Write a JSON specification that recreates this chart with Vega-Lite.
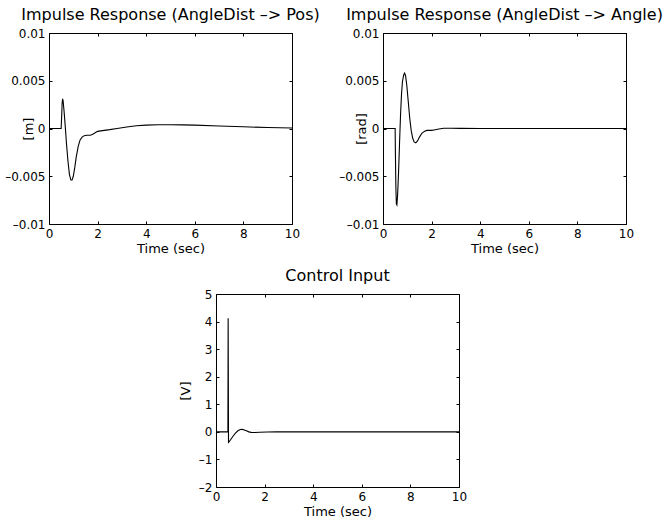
{
  "$schema": "https://vega.github.io/schema/vega-lite/v6.json",
  "background": "white",
  "padding": {"left": 4, "top": 6, "right": 4, "bottom": 4},
  "config": {
    "font": "DejaVu Sans",
    "view": {"stroke": "black", "strokeWidth": 1},
    "axis": {
      "grid": false, "domain": false, "tickColor": "black", "tickSize": -3, "tickWidth": 1,
      "labelColor": "black", "labelFont": "DejaVu Sans", "labelFontSize": 12, "labelPadding": 7,
      "labelFlush": false, "labelOverlap": false,
      "titleFont": "DejaVu Sans", "titleFontSize": 13, "titleFontWeight": "normal", "titleColor": "black", "titlePadding": 3
    },
    "title": {"font": "DejaVu Sans", "fontSize": 16, "fontWeight": "normal", "color": "black", "offset": 4, "baseline": "alphabetic", "frame": "group", "anchor": "middle"}
  },
  "datasets": {
    "pos": [
      {"t": 0, "v": 0}, {"t": 0.5, "v": 0}, {"t": 0.52, "v": 0.0012}, {"t": 0.54, "v": 0.0026}, {"t": 0.56, "v": 0.0031},
      {"t": 0.58, "v": 0.0029}, {"t": 0.62, "v": 0.0018}, {"t": 0.67, "v": 0.0002}, {"t": 0.72, "v": -0.0016},
      {"t": 0.78, "v": -0.0034}, {"t": 0.84, "v": -0.0048}, {"t": 0.9, "v": -0.0054}, {"t": 0.95, "v": -0.0054},
      {"t": 1.0, "v": -0.005}, {"t": 1.06, "v": -0.0041}, {"t": 1.12, "v": -0.003}, {"t": 1.2, "v": -0.0019},
      {"t": 1.28, "v": -0.0012}, {"t": 1.36, "v": -0.0009}, {"t": 1.45, "v": -0.00075}, {"t": 1.55, "v": -0.0007},
      {"t": 1.7, "v": -0.0007}, {"t": 1.8, "v": -0.0006}, {"t": 1.9, "v": -0.00045}, {"t": 2.0, "v": -0.0003},
      {"t": 2.2, "v": -0.00022}, {"t": 2.5, "v": -0.00012}, {"t": 2.8, "v": 0}, {"t": 3.2, "v": 0.00015},
      {"t": 3.6, "v": 0.00028}, {"t": 4.0, "v": 0.00035}, {"t": 4.5, "v": 0.0004}, {"t": 5.0, "v": 0.0004},
      {"t": 5.5, "v": 0.00038}, {"t": 6.0, "v": 0.00035}, {"t": 7.0, "v": 0.00026}, {"t": 8.0, "v": 0.00018},
      {"t": 9.0, "v": 0.0001}, {"t": 10.0, "v": 0.00005}
    ],
    "angle": [
      {"t": 0, "v": 0}, {"t": 0.5, "v": 0}, {"t": 0.51, "v": -0.0025}, {"t": 0.53, "v": -0.0062}, {"t": 0.55, "v": -0.0079},
      {"t": 0.57, "v": -0.008}, {"t": 0.6, "v": -0.007}, {"t": 0.64, "v": -0.0046}, {"t": 0.68, "v": -0.0016},
      {"t": 0.72, "v": 0.0013}, {"t": 0.76, "v": 0.0035}, {"t": 0.8, "v": 0.0049}, {"t": 0.85, "v": 0.0056},
      {"t": 0.89, "v": 0.0058}, {"t": 0.93, "v": 0.0055}, {"t": 0.98, "v": 0.0045}, {"t": 1.04, "v": 0.0028},
      {"t": 1.1, "v": 0.0011}, {"t": 1.16, "v": -0.0002}, {"t": 1.22, "v": -0.001}, {"t": 1.28, "v": -0.0014},
      {"t": 1.35, "v": -0.0015}, {"t": 1.42, "v": -0.0013}, {"t": 1.5, "v": -0.0009}, {"t": 1.6, "v": -0.0005},
      {"t": 1.7, "v": -0.0003}, {"t": 1.8, "v": -0.0002}, {"t": 1.9, "v": -0.0002}, {"t": 2.0, "v": -0.0002},
      {"t": 2.1, "v": -0.00015}, {"t": 2.3, "v": -0.00005}, {"t": 2.5, "v": 0.00003}, {"t": 2.8, "v": 0.00003},
      {"t": 3.2, "v": 0.00001}, {"t": 4.0, "v": 0}, {"t": 10.0, "v": 0}
    ],
    "ctrl": [
      {"t": 0, "v": 0}, {"t": 0.49, "v": 0}, {"t": 0.5, "v": 4.12}, {"t": 0.515, "v": -0.38}, {"t": 0.55, "v": -0.35},
      {"t": 0.62, "v": -0.26}, {"t": 0.7, "v": -0.16}, {"t": 0.8, "v": -0.05}, {"t": 0.9, "v": 0.04},
      {"t": 1.0, "v": 0.085}, {"t": 1.08, "v": 0.09}, {"t": 1.16, "v": 0.07}, {"t": 1.25, "v": 0.04},
      {"t": 1.35, "v": 0.0}, {"t": 1.45, "v": -0.02}, {"t": 1.6, "v": -0.025}, {"t": 1.8, "v": -0.015},
      {"t": 2.1, "v": -0.005}, {"t": 2.5, "v": 0}, {"t": 10.0, "v": 0}
    ],
    "blank": [{"a": 0}]
  },
  "vconcat": [
    {
      "hconcat": [
        {
          "title": {"text": "Impulse Response (AngleDist –> Pos)"},
          "width": 243, "height": 191,
          "data": {"name": "pos"},
          "layer": [
            {
              "mark": {"type": "line", "color": "black", "strokeWidth": 1.1},
              "encoding": {
                "x": {"field": "t", "type": "quantitative", "scale": {"domain": [0, 10], "nice": false, "zero": false},
                      "axis": {"orient": "bottom", "values": [0, 2, 4, 6, 8, 10], "title": "Time (sec)"}},
                "y": {"field": "v", "type": "quantitative", "scale": {"domain": [-0.01, 0.01], "nice": false, "zero": false},
                      "axis": {"orient": "left", "values": [-0.01, -0.005, 0, 0.005, 0.01], "format": "~g",
                               "labelExpr": "replace(datum.label, '−', '–')", "title": "[m]",
                               "titleX": -20.5, "titleY": 95.5, "titleAngle": 270, "titleBaseline": "middle", "titleAlign": "center"}}
              }
            },
            {
              "mark": {"type": "line", "opacity": 0},
              "encoding": {
                "x": {"field": "t", "type": "quantitative", "axis": {"orient": "top", "values": [0, 2, 4, 6, 8, 10], "labels": false, "title": null}},
                "y": {"field": "v", "type": "quantitative", "axis": {"orient": "right", "values": [-0.01, -0.005, 0, 0.005, 0.01], "labels": false, "title": null}}
              }
            }
          ],
          "resolve": {"axis": {"x": "independent", "y": "independent"}}
        },
        {
          "title": {"text": "Impulse Response (AngleDist –> Angle)"},
          "width": 243, "height": 191,
          "data": {"name": "angle"},
          "layer": [
            {
              "mark": {"type": "line", "color": "black", "strokeWidth": 1.1},
              "encoding": {
                "x": {"field": "t", "type": "quantitative", "scale": {"domain": [0, 10], "nice": false, "zero": false},
                      "axis": {"orient": "bottom", "values": [0, 2, 4, 6, 8, 10], "title": "Time (sec)"}},
                "y": {"field": "v", "type": "quantitative", "scale": {"domain": [-0.01, 0.01], "nice": false, "zero": false},
                      "axis": {"orient": "left", "values": [-0.01, -0.005, 0, 0.005, 0.01], "format": "~g",
                               "labelExpr": "replace(datum.label, '−', '–')", "title": "[rad]",
                               "titleX": -21.5, "titleY": 95.5, "titleAngle": 270, "titleBaseline": "middle", "titleAlign": "center"}}
              }
            },
            {
              "mark": {"type": "line", "opacity": 0},
              "encoding": {
                "x": {"field": "t", "type": "quantitative", "axis": {"orient": "top", "values": [0, 2, 4, 6, 8, 10], "labels": false, "title": null}},
                "y": {"field": "v", "type": "quantitative", "axis": {"orient": "right", "values": [-0.01, -0.005, 0, 0.005, 0.01], "labels": false, "title": null}}
              }
            }
          ],
          "resolve": {"axis": {"x": "independent", "y": "independent"}}
        }
      ],
      "spacing": 91,
      "bounds": "flush"
    },
    {
      "hconcat": [
        {
          "width": 167, "height": 10,
          "data": {"name": "blank"},
          "mark": {"type": "point", "opacity": 0},
          "view": {"stroke": null}
        },
        {
          "title": {"text": "Control Input"},
          "width": 243, "height": 193,
          "data": {"name": "ctrl"},
          "layer": [
            {
              "mark": {"type": "line", "color": "black", "strokeWidth": 1.1},
              "encoding": {
                "x": {"field": "t", "type": "quantitative", "scale": {"domain": [0, 10], "nice": false, "zero": false},
                      "axis": {"orient": "bottom", "values": [0, 2, 4, 6, 8, 10], "title": "Time (sec)"}},
                "y": {"field": "v", "type": "quantitative", "scale": {"domain": [-2, 5], "nice": false, "zero": false},
                      "axis": {"orient": "left", "values": [-2, -1, 0, 1, 2, 3, 4, 5], "format": "~g",
                               "labelExpr": "replace(datum.label, '−', '–')", "title": "[V]",
                               "titleX": -31, "titleY": 96.5, "titleAngle": 270, "titleBaseline": "middle", "titleAlign": "center"}}
              }
            },
            {
              "mark": {"type": "line", "opacity": 0},
              "encoding": {
                "x": {"field": "t", "type": "quantitative", "axis": {"orient": "top", "values": [0, 2, 4, 6, 8, 10], "labels": false, "title": null}},
                "y": {"field": "v", "type": "quantitative", "axis": {"orient": "right", "values": [-2, -1, 0, 1, 2, 3, 4, 5], "labels": false, "title": null}}
              }
            }
          ],
          "resolve": {"axis": {"x": "independent", "y": "independent"}}
        }
      ],
      "spacing": 0,
      "bounds": "flush"
    }
  ],
  "spacing": 11,
  "center": false
}
